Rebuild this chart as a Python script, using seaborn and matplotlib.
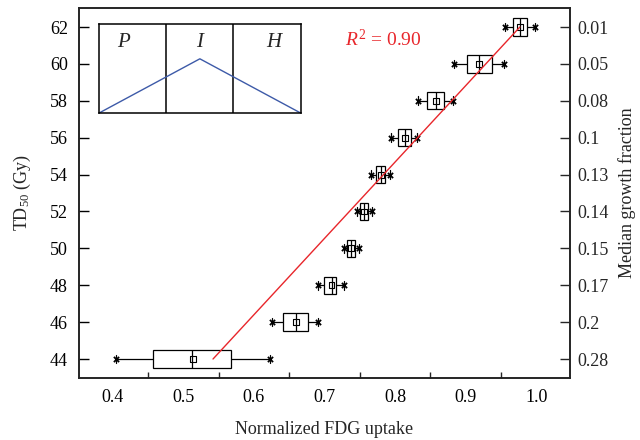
import numpy as np
import pandas as pd
import seaborn as sns
import matplotlib.pyplot as plt

# TD50 levels and the box stats of normalized FDG uptake
td50 = [44, 46, 48, 50, 52, 54, 56, 58, 60, 62]
fdg_min = [0.404, 0.625, 0.691, 0.727, 0.746, 0.766, 0.795, 0.833, 0.884, 0.956]
fdg_q1 = [0.457, 0.641, 0.699, 0.732, 0.751, 0.773, 0.804, 0.845, 0.902, 0.967]
fdg_med = [0.512, 0.659, 0.710, 0.738, 0.756, 0.780, 0.814, 0.858, 0.919, 0.977]
fdg_q3 = [0.568, 0.676, 0.716, 0.743, 0.761, 0.786, 0.823, 0.869, 0.938, 0.987]
fdg_max = [0.623, 0.691, 0.728, 0.749, 0.767, 0.793, 0.831, 0.882, 0.955, 0.999]
fdg_mean = [0.513, 0.659, 0.710, 0.738, 0.756, 0.780, 0.814, 0.858, 0.919, 0.977]
growth_labels = ["0.28", "0.2", "0.17", "0.15", "0.14", "0.13", "0.1", "0.08", "0.05", "0.01"]

# linear fit line endpoints
fit_x = [0.542, 0.977]
fit_y = [44, 62]

sns.set_style("white")
plt.rcParams['font.family'] = ['Liberation Serif', 'DejaVu Serif']
plt.rcParams['mathtext.fontset'] = 'custom'
plt.rcParams['mathtext.rm'] = 'Liberation Serif'
plt.rcParams['mathtext.it'] = 'Liberation Serif:italic'
plt.rcParams['font.size'] = 13

# 5 points per level -> quartiles/median/min/max match the read stats exactly
rows = []
for i, t in enumerate(td50):
    for v in (fdg_min[i], fdg_q1[i], fdg_med[i], fdg_q3[i], fdg_max[i]):
        rows.append({'td50': t, 'fdg': v})
df = pd.DataFrame(rows)

fig = plt.figure(figsize=(6.4, 4.4), dpi=100)
ax = fig.add_axes([0.1234, 0.1409, 0.7672, 0.8409])

sns.boxplot(data=df, x='fdg', y='td50', orient='y', native_scale=True,
            whis=(0, 100), width=0.47, color='white', linecolor='black',
            linewidth=0.9, fliersize=0, ax=ax)

# whisker end markers and caps
ends_x = fdg_min + fdg_max
ends_y = td50 + td50
ax.scatter(ends_x, ends_y, marker='x', s=14, color='black', linewidths=1.3, zorder=5)
ax.scatter(ends_x, ends_y, marker='|', s=16, color='black', linewidths=0.7, zorder=5)
# mean markers
ax.scatter(fdg_mean, td50, marker='s', s=18, facecolors='none', edgecolors='black',
           linewidths=0.8, zorder=6)

sns.lineplot(x=fit_x, y=fit_y, color='#e8262b', linewidth=1.0, ax=ax, zorder=7)
ax.text(0.729, 61.3, r'$R^2$ = 0.90', color='#e8262b', fontsize=14, va='center')

ax.set_xlim(0.352, 1.048)
ax.set_ylim(42.97, 63.03)
ax.set_xticks([0.4, 0.5, 0.6, 0.7, 0.8, 0.9, 1.0])
ax.set_xticklabels(['0.4', '0.5', '0.6', '0.7', '0.8', '0.9', '1.0'])
ax.set_xticks([0.45, 0.55, 0.65, 0.75, 0.85, 0.95], minor=True)
ax.set_yticks(td50)
ax.set_yticklabels([str(t) for t in td50])
ax.tick_params(axis='both', which='major', direction='in', length=7, width=1,
               labelsize=13, colors='black')
ax.tick_params(axis='x', which='minor', direction='in', length=4, width=1, bottom=True)
ax.tick_params(axis='x', pad=8)
ax.tick_params(axis='y', pad=8)
ax.set_xlabel('Normalized FDG uptake', fontsize=13, labelpad=11)
ax.set_ylabel(r'TD$_{50}$ (Gy)', fontsize=13, labelpad=12)
for s in ax.spines.values():
    s.set_linewidth(1.1)
    s.set_color('black')

ax2 = ax.twinx()
ax2.set_ylim(ax.get_ylim())
ax2.set_yticks(td50)
ax2.set_yticklabels(growth_labels)
ax2.tick_params(axis='y', direction='in', length=7, width=1, labelsize=13, pad=5)
ax2.set_ylabel('Median growth fraction', fontsize=13, labelpad=7)
for s in ax2.spines.values():
    s.set_linewidth(1.1)

# inset schematic
ins = ax.inset_axes([0.0407, 0.716, 0.411, 0.2405])
ins.set_xlim(0, 3)
ins.set_ylim(0, 1)
ins.set_xticks([])
ins.set_yticks([])
for s in ins.spines.values():
    s.set_linewidth(1.1)
    s.set_color('black')
ins.axvline(1, color='black', linewidth=1.1)
ins.axvline(2, color='black', linewidth=1.1)
ins.plot([0, 1.5, 3], [0, 0.61, 0], color='#3d5aa8', linewidth=1.0)
for lx, lab in zip([0.36, 1.5, 2.6], ['P', 'I', 'H']):
    ins.text(lx, 0.79, lab, fontstyle='italic', fontsize=15, ha='center', va='center')

fig.savefig('out.png', dpi=100)
